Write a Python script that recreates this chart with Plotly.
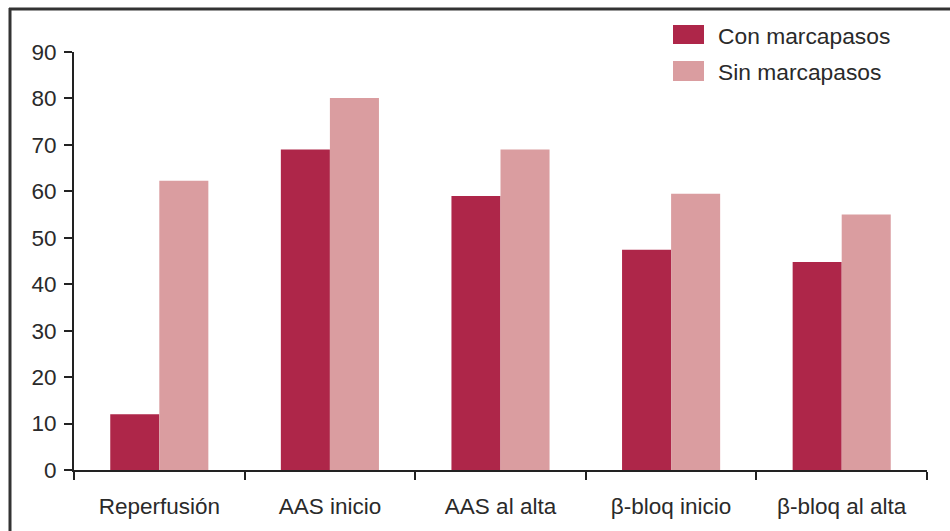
import plotly.graph_objects as go

categories = ["Reperfusión", "AAS inicio", "AAS al alta", "β-bloq inicio", "β-bloq al alta"]
con_marcapasos = [12, 69, 59, 47.4, 44.8]
sin_marcapasos = [62.3, 80.1, 69, 59.5, 55]
series_names = ["Con marcapasos", "Sin marcapasos"]
y_ticks = [0, 10, 20, 30, 40, 50, 60, 70, 80, 90]

DARK = "#AE2649"
LIGHT = "#DA9DA0"
TXT = "#2a2a2a"
FONT = "Liberation Sans"

W, H = 950, 531
L, R, T, B = 74, 23, 52, 61
pw, ph = W - L - R, H - T - B

def px(x):
    return (x - L) / pw

def py(y):
    return (H - B - y) / ph

fig = go.Figure()
fig.add_trace(go.Bar(x=categories, y=con_marcapasos, name=series_names[0],
                     marker=dict(color=DARK, line=dict(width=0)), showlegend=False))
fig.add_trace(go.Bar(x=categories, y=sin_marcapasos, name=series_names[1],
                     marker=dict(color=LIGHT, line=dict(width=0)), showlegend=False))

shapes = [
    # frame: top and left lines
    dict(type="line", xref="paper", yref="paper", x0=px(9), x1=px(950), y0=py(9), y1=py(9),
         line=dict(color="#333333", width=3)),
    dict(type="line", xref="paper", yref="paper", x0=px(10), x1=px(10), y0=py(8), y1=py(531),
         line=dict(color="#333333", width=3)),
    # legend swatches
    dict(type="rect", xref="paper", yref="paper", x0=px(673), x1=px(704), y0=py(44), y1=py(25),
         fillcolor=DARK, line=dict(width=0)),
    dict(type="rect", xref="paper", yref="paper", x0=px(673), x1=px(704), y0=py(81), y1=py(61),
         fillcolor=LIGHT, line=dict(width=0)),
]
annotations = [
    dict(xref="paper", yref="paper", x=px(716), y=py(36), text=series_names[0], showarrow=False,
         xanchor="left", yanchor="middle", font=dict(family=FONT, size=22.8, color=TXT)),
    dict(xref="paper", yref="paper", x=px(716), y=py(72), text=series_names[1], showarrow=False,
         xanchor="left", yanchor="middle", font=dict(family=FONT, size=22.8, color=TXT)),
]

fig.update_layout(
    width=W, height=H,
    margin=dict(l=L, r=R, t=T, b=B, pad=0),
    paper_bgcolor="white", plot_bgcolor="white",
    barmode="group", bargap=0.425, bargroupgap=0,
    font=dict(family=FONT, size=22, color=TXT),
    shapes=shapes, annotations=annotations,
    xaxis=dict(type="category", range=[-0.5, 4.5], showline=True, linecolor="#222222", linewidth=2,
               ticks="outside", tickson="boundaries", ticklen=8, tickwidth=2, tickcolor="#222222",
               showgrid=False, zeroline=False, ticklabelstandoff=15,
               tickfont=dict(family=FONT, size=22.5, color=TXT)),
    yaxis=dict(range=[0, 90], tickvals=y_ticks, showline=True, linecolor="#222222", linewidth=2,
               ticks="outside", ticklen=8, tickwidth=2, tickcolor="#222222",
               showgrid=False, zeroline=False, ticklabelstandoff=3,
               tickfont=dict(family=FONT, size=22.5, color=TXT)),
)

fig.write_html("out.html")
